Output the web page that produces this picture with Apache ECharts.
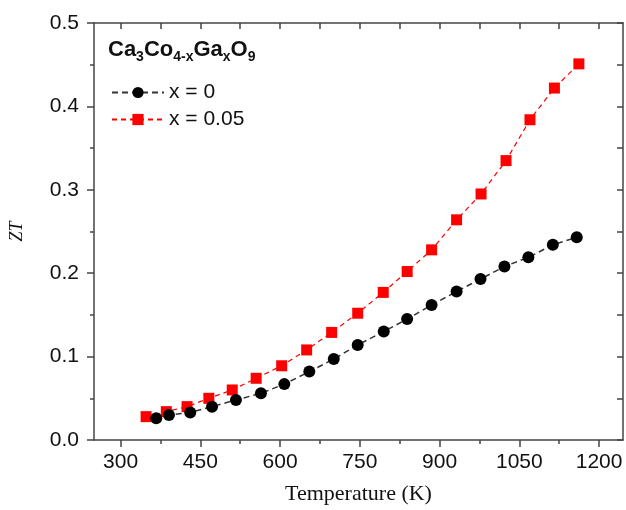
<!DOCTYPE html>
<html>
<head>
<meta charset="utf-8">
<script src="https://cdn.jsdelivr.net/npm/echarts@6/dist/echarts.min.js"></script>
<style>
  html, body { margin: 0; padding: 0; background: #fff; }
  #main { width: 626px; height: 510px; }
</style>
</head>
<body>
<div id="main"></div>
<script>
var chartDom = document.getElementById('main');
var myChart = echarts.init(chartDom);
var option;

// x = 0 (black circles)
var tempX0 = [367, 391, 431, 472, 517, 564, 608, 655, 701, 746, 795, 839, 885, 932, 977, 1022, 1067, 1113, 1158];
var ztX0 = [0.026, 0.030, 0.033, 0.040, 0.048, 0.056, 0.067, 0.082, 0.097, 0.114, 0.130, 0.145, 0.162, 0.178, 0.193, 0.208, 0.219, 0.234, 0.243];

// x = 0.05 (red squares)
var tempX05 = [348, 386, 425, 466, 510, 555, 603, 650, 697, 746, 794, 839, 885, 932, 978, 1025, 1070, 1116, 1162];
var ztX05 = [0.028, 0.034, 0.040, 0.050, 0.060, 0.074, 0.089, 0.108, 0.129, 0.152, 0.177, 0.202, 0.228, 0.264, 0.295, 0.335, 0.384, 0.422, 0.451];

var xMajor = [300, 450, 600, 750, 900, 1050, 1200];
var xMinor = [375, 525, 675, 825, 975, 1125];

function pairs(xs, ys) {
  return xs.map(function (x, i) { return [x, ys[i]]; });
}

var axisColor = '#444';
var labelFont = 'Liberation Sans, Arial, sans-serif';

option = {
  backgroundColor: '#fff',
  animation: false,
  grid: { left: 93, right: 3, top: 23, bottom: 66 },
  graphic: [
    {
      type: 'text',
      left: 108,
      top: 39,
      style: {
        text: '{b|Ca}{s|3}{b|Co}{s|4-x}{b|Ga}{s|x}{b|O}{s|9}',
        rich: {
          b: { fontSize: 22, fontWeight: 'bold', fontFamily: labelFont, fill: '#111', lineHeight: 28, verticalAlign: 'middle' },
          s: { fontSize: 14, fontWeight: 'bold', fontFamily: labelFont, fill: '#111', lineHeight: 15, verticalAlign: 'bottom' }
        }
      }
    }
  ],
  legend: {
    left: 106,
    top: 77,
    orient: 'vertical',
    itemWidth: 52,
    itemHeight: 14,
    itemGap: 6,
    textStyle: { fontSize: 21, fontFamily: labelFont, color: '#111', lineHeight: 21 },
    data: ['x = 0', 'x = 0.05']
  },
  xAxis: [
    {
      type: 'value',
      min: 250,
      max: 1245,
      position: 'bottom',
      name: 'Temperature (K)',
      nameLocation: 'middle',
      nameGap: 43,
      nameTextStyle: { fontSize: 22, fontFamily: 'Liberation Serif, Times New Roman, serif', color: '#111' },
      axisLine: { lineStyle: { color: axisColor, width: 1.5 } },
      axisTick: { customValues: xMajor, length: 7, lineStyle: { color: axisColor, width: 1.5 } },
      axisLabel: { customValues: xMajor, fontSize: 21, fontFamily: labelFont, color: '#111', margin: 12, formatter: function (v) { return String(v); } },
      splitLine: { show: false }
    },
    {
      type: 'value',
      min: 250,
      max: 1245,
      position: 'bottom',
      axisLine: { show: false },
      axisTick: { customValues: xMinor, length: 4, lineStyle: { color: axisColor, width: 1.5 } },
      axisLabel: { show: false },
      splitLine: { show: false }
    },
    {
      type: 'value',
      min: 250,
      max: 1245,
      position: 'top',
      axisLine: { lineStyle: { color: axisColor, width: 1.5 } },
      axisTick: { customValues: xMajor.concat(xMinor), inside: true, length: 6, lineStyle: { color: axisColor, width: 1.5 } },
      axisLabel: { show: false },
      splitLine: { show: false }
    }
  ],
  yAxis: [
    {
      type: 'value',
      min: 0,
      max: 0.5,
      interval: 0.1,
      position: 'left',
      name: 'ZT',
      nameLocation: 'middle',
      nameGap: 68,
      nameTextStyle: { fontSize: 18, fontStyle: 'italic', fontFamily: 'Liberation Serif, Times New Roman, serif', color: '#111' },
      axisLine: { show: true, lineStyle: { color: axisColor, width: 1.5 } },
      axisTick: { show: true, length: 7, lineStyle: { color: axisColor, width: 1.5 } },
      minorTick: { show: true, splitNumber: 2, length: 4, lineStyle: { color: axisColor, width: 1.5 } },
      axisLabel: { fontSize: 21, fontFamily: labelFont, color: '#111', margin: 15, formatter: function (v) { return v.toFixed(1); } },
      splitLine: { show: false }
    },
    {
      type: 'value',
      min: 0,
      max: 0.5,
      interval: 0.05,
      position: 'right',
      axisLine: { show: true, lineStyle: { color: axisColor, width: 1.5 } },
      axisTick: { show: true, inside: true, length: 6, lineStyle: { color: axisColor, width: 1.5 } },
      axisLabel: { show: false },
      splitLine: { show: false }
    }
  ],
  series: [
    {
      name: 'x = 0',
      type: 'line',
      data: pairs(tempX0, ztX0),
      symbol: 'circle',
      symbolSize: 12,
      itemStyle: { color: '#000' },
      lineStyle: { color: '#333', width: 1.5, type: [6, 4] },
      z: 3
    },
    {
      name: 'x = 0.05',
      type: 'line',
      data: pairs(tempX05, ztX05),
      symbol: 'rect',
      symbolSize: 11,
      itemStyle: { color: '#ff0000' },
      lineStyle: { color: '#ff0000', width: 1.2, type: [5, 4] },
      z: 2
    }
  ]
};

option && myChart.setOption(option);
</script>
</body>
</html>
